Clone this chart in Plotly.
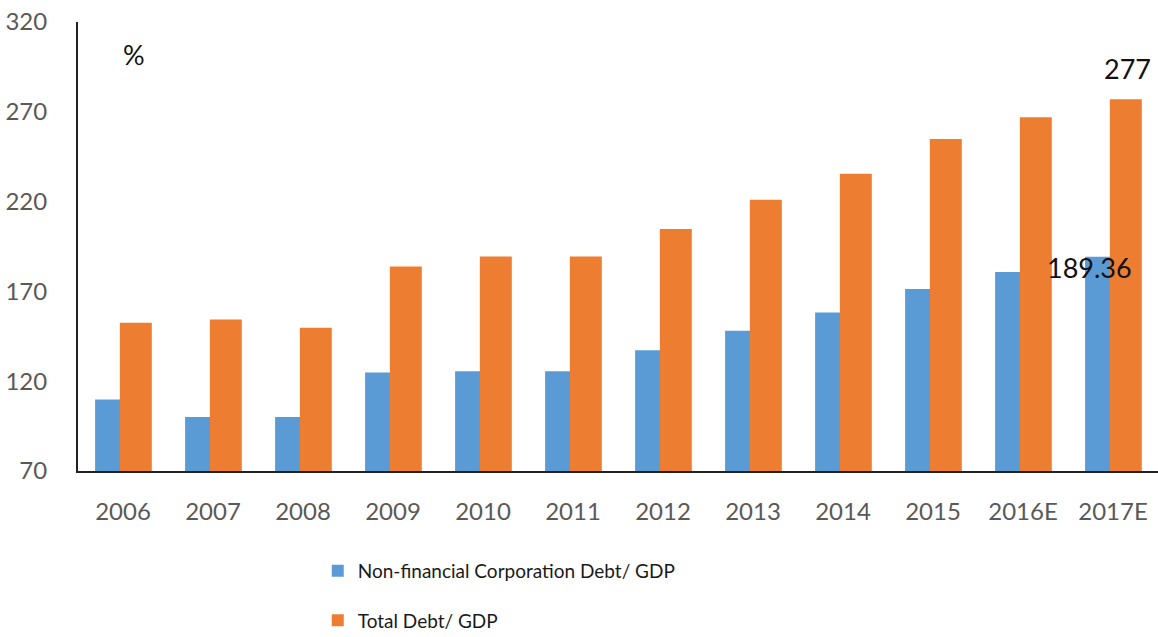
import plotly.graph_objects as go

years = ["2006", "2007", "2008", "2009", "2010", "2011",
         "2012", "2013", "2014", "2015", "2016E", "2017E"]
corp_debt_gdp = [109.8, 100.1, 100.0, 124.8, 125.5, 125.5,
                 137.2, 148.1, 158.3, 171.3, 180.8, 189.36]
total_debt_gdp = [152.6, 154.3, 149.8, 183.9, 189.5, 189.5,
                  204.7, 221.0, 235.5, 254.9, 267.0, 277.0]

BLUE = "#5B9BD5"
ORANGE = "#ED7D31"
FONT = "Lato"

fig = go.Figure()
fig.add_trace(go.Bar(
    x=years, y=corp_debt_gdp, name="Non-financial Corporation Debt/ GDP",
    marker=dict(color=BLUE, line=dict(width=0)),
    width=0.355, offset=-0.31, legendgroup="a",
))
fig.add_trace(go.Bar(
    x=years, y=total_debt_gdp, name="Total Debt/ GDP",
    marker=dict(color=ORANGE, line=dict(width=0)),
    width=0.355, offset=-0.035, legendgroup="b",
))

fig.update_layout(
    barmode="overlay",
    width=1158, height=637,
    margin=dict(l=78, r=0, t=22, b=166, autoexpand=False),
    plot_bgcolor="white", paper_bgcolor="white",
    font=dict(family=FONT, color="#595959"),
    showlegend=True,
    legend=dict(
        orientation="v", x=0.222, y=-0.18, xanchor="left", yanchor="top",
        font=dict(family=FONT, size=19, color="#1a1a1a"),
        tracegroupgap=22, bgcolor="rgba(0,0,0,0)",
    ),
    xaxis=dict(
        type="category", showgrid=False, showline=True,
        linecolor="#222", linewidth=2, ticks="",
        tickfont=dict(family=FONT, size=24, color="#595959"),
        ticklabelstandoff=18,
    ),
    yaxis=dict(
        range=[70, 320], tickvals=[70, 120, 170, 220, 270, 320],
        showgrid=False, showline=True, linecolor="#222", linewidth=2,
        ticks="", zeroline=False,
        tickfont=dict(family=FONT, size=24, color="#595959"),
        ticklabelstandoff=24,
    ),
)

fig.add_annotation(x=0.052, xref="paper", y=0.928, yref="paper", text="%",
                   xanchor="center", yanchor="middle", showarrow=False,
                   font=dict(family=FONT, size=27, color="#111"))
fig.add_annotation(x=years[-1], y=total_debt_gdp[-1], text=f"{total_debt_gdp[-1]:g}",
                   xshift=14, yshift=31, showarrow=False,
                   font=dict(family=FONT, size=27, color="#111"))
fig.add_annotation(x=years[-1], y=corp_debt_gdp[-1], text=f"{corp_debt_gdp[-1]:g}",
                   xshift=-24, yshift=-11, showarrow=False,
                   font=dict(family=FONT, size=27, color="#111"))

fig.write_html("out.html")
